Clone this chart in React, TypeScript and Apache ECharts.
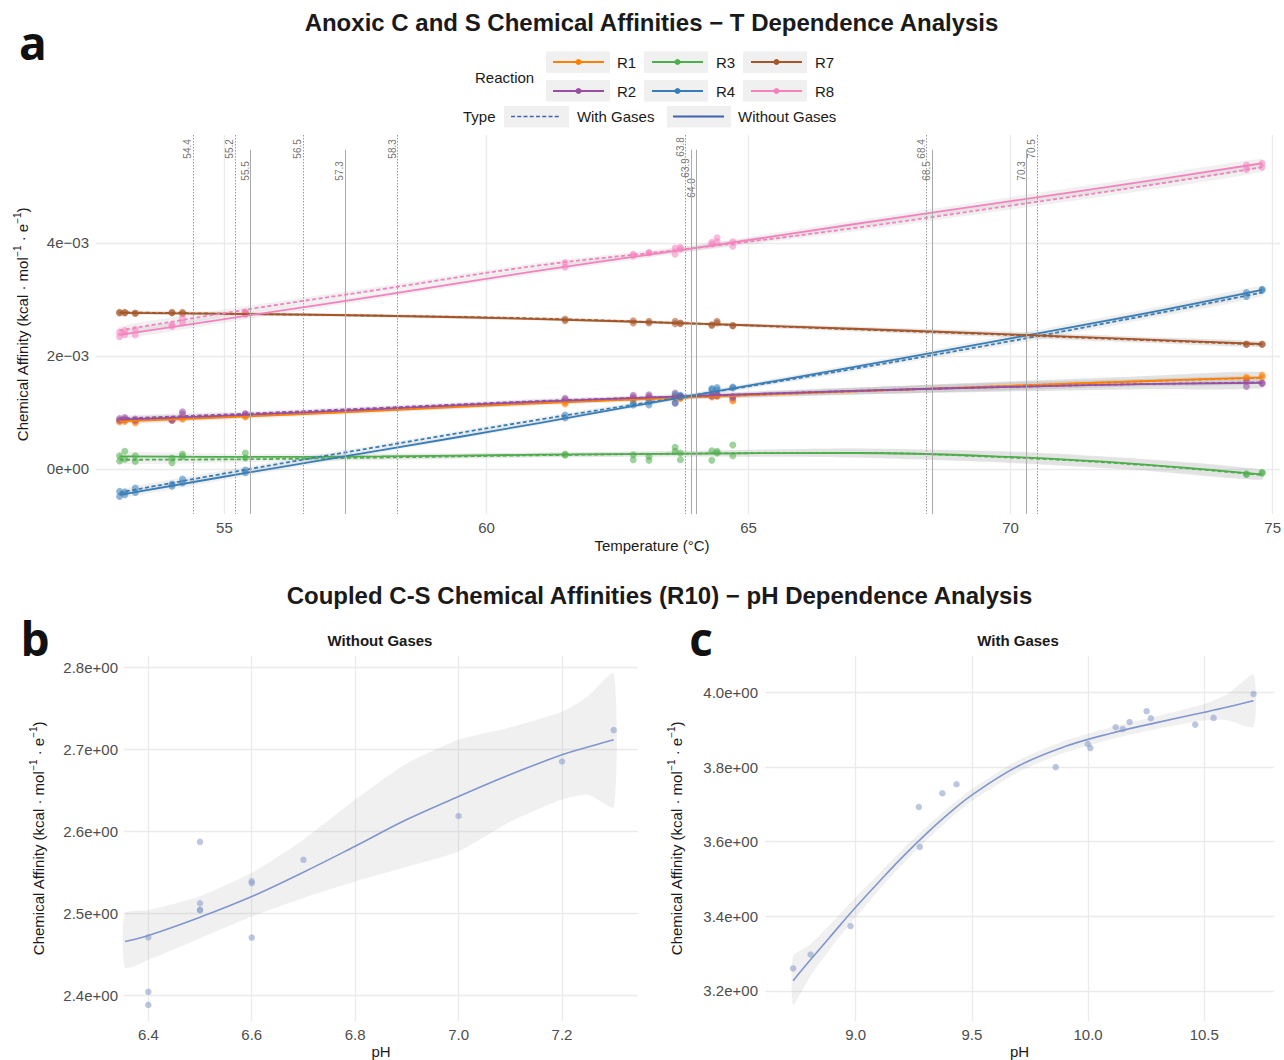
import React, { useEffect, useRef } from 'react';
import * as echarts from 'echarts';

const FONT = "'Liberation Sans', Arial, Helvetica, sans-serif";

// ================= Panel a : affinities vs temperature (values in 1e-3 kcal·mol-1·e-1) =================
const reactionNames = ['R1', 'R2', 'R3', 'R4', 'R7', 'R8'];
const reactionColors = ['#FF7F00', '#984EA3', '#4DAF4A', '#377EB8', '#A65628', '#F781BF'];

const sampleTemps = [53.0, 53.1, 53.3, 54.0, 54.2, 55.4, 61.5, 62.8, 63.1, 63.6, 63.7, 64.3, 64.4, 64.7, 74.5, 74.8];

const R1_ptsWith = [0.85, 0.86, 0.84, 0.87, 0.90, 0.93, 1.17, 1.24, 1.25, 1.27, 1.26, 1.29, 1.30, 1.22, 1.62, 1.66];
const R1_ptsWithout = [0.83, 0.84, 0.81, 0.86, 0.88, 0.92, 1.15, 1.22, 1.24, 1.25, 1.24, 1.27, 1.28, 1.20, 1.60, 1.62];
const R2_ptsWith = [0.89, 0.91, 0.88, 0.87, 1.01, 0.98, 1.25, 1.30, 1.31, 1.34, 1.29, 1.31, 1.32, 1.28, 1.55, 1.52];
const R2_ptsWithout = [0.86, 0.88, 0.86, 0.86, 0.97, 0.96, 1.22, 1.27, 1.28, 1.16, 1.27, 1.29, 1.30, 1.26, 1.46, 1.51];
const R3_ptsWith = [0.14, 0.17, 0.13, 0.11, 0.22, 0.19, 0.24, 0.16, 0.15, 0.31, 0.16, 0.15, 0.28, 0.23, -0.09, -0.06];
const R3_ptsWithout = [0.23, 0.31, 0.23, 0.19, 0.26, 0.28, 0.26, 0.25, 0.22, 0.38, 0.28, 0.32, 0.31, 0.42, -0.10, -0.08];
const R4_ptsWith = [-0.40, -0.41, -0.34, -0.27, -0.18, -0.02, 0.95, 1.16, 1.19, 1.31, 1.30, 1.42, 1.44, 1.45, 3.05, 3.16];
const R4_ptsWithout = [-0.49, -0.46, -0.42, -0.31, -0.25, -0.07, 0.90, 1.13, 1.13, 1.17, 1.28, 1.40, 1.40, 1.43, 3.12, 3.18];
const R7_ptsWith = [2.77, 2.77, 2.76, 2.77, 2.77, 2.74, 2.65, 2.62, 2.61, 2.61, 2.58, 2.55, 2.61, 2.53, 2.21, 2.21];
const R7_ptsWithout = [2.76, 2.76, 2.75, 2.76, 2.75, 2.76, 2.62, 2.58, 2.58, 2.57, 2.57, 2.54, 2.58, 2.54, 2.20, 2.20];
const R8_ptsWith = [2.42, 2.45, 2.47, 2.55, 2.68, 2.78, 3.65, 3.80, 3.83, 3.91, 3.92, 4.01, 4.09, 4.02, 5.30, 5.34];
const R8_ptsWithout = [2.34, 2.38, 2.37, 2.52, 2.58, 2.74, 3.57, 3.77, 3.82, 3.80, 3.89, 3.98, 4.02, 3.94, 5.38, 5.41];

// smoothed fits
const fitTemps = [53, 55.5, 58, 61, 64, 67, 70, 72.5, 74.8];
const R1_fitWith = [0.86, 0.95, 1.05, 1.17, 1.27, 1.37, 1.47, 1.55, 1.61];
const R1_fitWithout = [0.84, 0.93, 1.03, 1.16, 1.27, 1.37, 1.47, 1.55, 1.62];
const R2_fitWith = [0.89, 0.98, 1.08, 1.20, 1.29, 1.38, 1.45, 1.50, 1.53];
const R2_fitWithout = [0.87, 0.96, 1.06, 1.19, 1.29, 1.38, 1.45, 1.50, 1.52];
const R3_fitWith = [0.16, 0.17, 0.20, 0.24, 0.27, 0.28, 0.20, 0.07, -0.11];
const R3_fitWithout = [0.22, 0.21, 0.22, 0.25, 0.27, 0.28, 0.21, 0.08, -0.10];
const R4_fitWith = [-0.42, 0.00, 0.40, 0.87, 1.31, 1.77, 2.26, 2.70, 3.12];
const R4_fitWithout = [-0.46, -0.06, 0.33, 0.81, 1.31, 1.80, 2.31, 2.74, 3.17];
const R7_fitWith = [2.77, 2.74, 2.71, 2.66, 2.57, 2.47, 2.37, 2.28, 2.20];
const R7_fitWithout = [2.76, 2.74, 2.71, 2.65, 2.57, 2.48, 2.38, 2.29, 2.21];
const R8_fitWith = [2.45, 2.83, 3.18, 3.60, 3.91, 4.26, 4.66, 5.00, 5.34];
const R8_fitWithout = [2.37, 2.72, 3.07, 3.51, 3.91, 4.33, 4.74, 5.08, 5.41];

// half-width of the confidence ribbons at fitTemps
const R1_se = [0.05, 0.04, 0.04, 0.04, 0.04, 0.06, 0.08, 0.09, 0.10];
const R2_se = [0.05, 0.04, 0.04, 0.04, 0.04, 0.06, 0.08, 0.09, 0.10];
const R3_se = [0.07, 0.05, 0.05, 0.04, 0.05, 0.08, 0.10, 0.10, 0.09];
const R4_se = [0.06, 0.05, 0.04, 0.04, 0.04, 0.05, 0.06, 0.07, 0.07];
const R7_se = [0.03, 0.03, 0.03, 0.03, 0.03, 0.04, 0.05, 0.05, 0.05];
const R8_se = [0.07, 0.06, 0.05, 0.05, 0.05, 0.06, 0.07, 0.08, 0.08];

// vertical reference temperatures
const refTemps = [54.4, 55.2, 55.5, 56.5, 57.3, 58.3, 63.8, 63.9, 64.0, 68.4, 68.5, 70.3, 70.5];
const refTypes = ['With', 'With', 'Without', 'With', 'Without', 'With', 'With', 'Without', 'Without', 'With', 'Without', 'Without', 'With'];
const refLabels = ['54.4', '55.2', '55.5', '56.5', '57.3', '58.3', '63.8', '63.9', '64.0', '68.4', '68.5', '70.3', '70.5'];

// ================= Panel b : Without Gases =================
const pH_b = [6.4, 6.4, 6.4, 6.5, 6.5, 6.5, 6.5, 6.6, 6.6, 6.6, 6.7, 7.0, 7.2, 7.3];
const aff_b = [2.471, 2.4045, 2.3886, 2.5874, 2.5126, 2.5045, 2.504, 2.5394, 2.537, 2.4707, 2.5655, 2.619, 2.6854, 2.7236];
const fitPH_b = [6.355, 6.4, 6.5, 6.6, 6.7, 6.8, 6.9, 7.0, 7.1, 7.2, 7.25, 7.3];
const fit_b = [2.4659, 2.4732, 2.4955, 2.5207, 2.5504, 2.5821, 2.6146, 2.6427, 2.6695, 2.6935, 2.703, 2.7118];
const upper_b = [2.5004, 2.504, 2.521, 2.5496, 2.590, 2.639, 2.683, 2.712, 2.727, 2.746, 2.765, 2.793];
const lower_b = [2.434, 2.4435, 2.470, 2.4963, 2.519, 2.539, 2.557, 2.5756, 2.612, 2.639, 2.645, 2.630];

// ================= Panel c : With Gases =================
const pH_c = [8.731, 8.806, 8.978, 9.272, 9.276, 9.373, 9.434, 9.861, 9.999, 10.010, 10.119, 10.149, 10.179, 10.252, 10.270, 10.461, 10.540, 10.712];
const aff_c = [3.260, 3.2975, 3.3736, 3.693, 3.586, 3.730, 3.754, 3.800, 3.862, 3.851, 3.907, 3.902, 3.921, 3.950, 3.931, 3.914, 3.932, 3.996];
const fitPH_c = [8.731, 8.8, 8.9, 9.0, 9.1, 9.2, 9.3, 9.4, 9.5, 9.7, 9.9, 10.1, 10.3, 10.5, 10.6, 10.712];
const fit_c = [3.227, 3.279, 3.352, 3.424, 3.492, 3.558, 3.619, 3.675, 3.725, 3.803, 3.855, 3.891, 3.920, 3.947, 3.961, 3.978];
const upper_c = [3.292, 3.322, 3.384, 3.451, 3.514, 3.578, 3.637, 3.692, 3.741, 3.819, 3.871, 3.907, 3.937, 3.969, 3.996, 4.048];
const lower_c = [3.162, 3.234, 3.320, 3.397, 3.470, 3.538, 3.601, 3.658, 3.709, 3.787, 3.839, 3.875, 3.903, 3.925, 3.926, 3.908];

// ================= helpers =================
const ptsByReaction = [
  [R1_ptsWith, R1_ptsWithout], [R2_ptsWith, R2_ptsWithout], [R3_ptsWith, R3_ptsWithout],
  [R4_ptsWith, R4_ptsWithout], [R7_ptsWith, R7_ptsWithout], [R8_ptsWith, R8_ptsWithout],
];
const fitByReaction = [
  [R1_fitWith, R1_fitWithout], [R2_fitWith, R2_fitWithout], [R3_fitWith, R3_fitWithout],
  [R4_fitWith, R4_fitWithout], [R7_fitWith, R7_fitWithout], [R8_fitWith, R8_fitWithout],
];
const seByReaction = [R1_se, R2_se, R3_se, R4_se, R7_se, R8_se];

const fmtSci = (v: number, d: number) => {
  const s = v.toExponential(d);
  const [m, e] = s.split('e');
  const sign = e.startsWith('-') ? '−' : '+';
  const ex = e.replace(/^[+-]/, '').padStart(2, '0');
  return `${m}e${sign}${ex}`;
};

const BAND_FILL = 'rgba(153,153,153,0.15)';
const TYPE_COLOR = '#3F63B0';
const GRID_COLOR = '#EBEBEB';
const AXIS_TEXT = '#4D4D4D';
const TITLE_TEXT = '#1A1A1A';

const A_MIN = -0.8, A_MAX = 5.91, A_SOLID_TOP = 5.65;

const band = (name: string, xs: number[], lo: number[], hi: number[], gi: number) => ({
  type: 'custom',
  name,
  xAxisIndex: gi,
  yAxisIndex: gi,
  silent: true,
  z: 1,
  data: xs.map((x, i) => [x, lo[i], hi[i]]),
  encode: { x: 0, y: [1, 2] },
  renderItem: (params: any, api: any) => {
    if (params.dataIndex !== 0) return null;
    const pts: number[][] = [];
    xs.forEach((x, i) => pts.push(api.coord([x, hi[i]])));
    for (let i = xs.length - 1; i >= 0; i--) pts.push(api.coord([xs[i], lo[i]]));
    return { type: 'polygon', shape: { points: pts, smooth: 0.2 }, style: { fill: BAND_FILL } };
  },
});

const yName = 'Chemical Affinity (kcal · mol{sup|−1} · e{sup|−1})';
const yNameStyle = {
  fontSize: 15,
  color: TITLE_TEXT,
  fontFamily: FONT,
  lineHeight: 20,
  rich: { sup: { fontSize: 10, verticalAlign: 'top', lineHeight: 20, color: TITLE_TEXT, fontFamily: FONT } },
};

const valueAxis = (gi: number, min: number, max: number, step: number, fmt: (v: number) => string, margin: number) => ({
  gridIndex: gi,
  type: 'value',
  min,
  max,
  minInterval: step,
  maxInterval: step,
  axisLine: { show: false },
  axisTick: { show: false },
  axisLabel: { color: AXIS_TEXT, fontSize: 15, fontFamily: FONT, margin, showMinLabel: false, showMaxLabel: false, formatter: fmt },
  splitLine: { show: true, showMinLine: false, showMaxLine: false, lineStyle: { color: GRID_COLOR, width: 1.3 } },
});

const dashIcon = 'path://' + Array.from({ length: 8 }, (_, i) => `M${i * 6.25},0h4v1.6h-4z`).join('');

const legendItem = (name: string, left: number, top: number, itemWidth: number, itemHeight: number, padLeft: number, icon?: string) => ({
  show: true,
  orient: 'horizontal',
  left,
  top,
  padding: 0,
  itemWidth,
  itemHeight,
  selectedMode: false,
  z: 6,
  data: [icon ? { name, icon } : { name }],
  textStyle: { fontSize: 15, color: TITLE_TEXT, fontFamily: FONT, padding: [0, 0, 0, padLeft] },
});

const SMOOTH_A = 0.4;
const SMOOTH_BC = 0.4;

function buildOption() {
  const series: any[] = [];

  // reference vertical lines + labels
  const refLabelDy = refLabels.map((lab, i) => {
    if (lab === '63.8') return 12;
    if (lab === '63.9') return 33;
    if (lab === '64.0') return 53;
    return refTypes[i] === 'With' ? 14 : 36;
  });
  series.push({
    type: 'scatter',
    name: 'reference temperatures',
    xAxisIndex: 0,
    yAxisIndex: 0,
    silent: true,
    z: 1,
    symbolSize: 0.1,
    itemStyle: { color: 'rgba(0,0,0,0)' },
    data: refTemps.map((t, i) => ({ value: [t, A_MAX], label: { position: [-5, refLabelDy[i]] } })),
    label: {
      show: true,
      rotate: 90,
      align: 'center',
      verticalAlign: 'middle',
      fontSize: 10,
      color: AXIS_TEXT,
      fontFamily: FONT,
      formatter: (p: any) => refLabels[p.dataIndex],
    },
    markLine: {
      silent: true,
      symbol: ['none', 'none'],
      label: { show: false },
      emphasis: { disabled: true },
      data: refTemps.map((t, i) => [
        {
          coord: [t, refTypes[i] === 'With' ? A_MAX : A_SOLID_TOP],
          lineStyle: refTypes[i] === 'With'
            ? { color: '#9A9A9A', width: 1, type: [1.5, 1.5] }
            : { color: '#AAAAAA', width: 1, type: 'solid' },
        },
        { coord: [t, A_MIN] },
      ]),
    },
  });

  reactionNames.forEach((r, k) => {
    const color = reactionColors[k];
    const [pw, pwo] = ptsByReaction[k];
    const [fw, fwo] = fitByReaction[k];
    const se = seByReaction[k];
    series.push({
      type: 'line', name: r, xAxisIndex: 0, yAxisIndex: 0, silent: true, z: 4,
      data: fitTemps.map((t, i) => [t, fwo[i]]),
      symbol: 'none', smooth: SMOOTH_A,
      lineStyle: { color, width: 1.8 }, itemStyle: { color },
    });
    series.push({
      type: 'line', name: r, xAxisIndex: 0, yAxisIndex: 0, silent: true, z: 4,
      data: fitTemps.map((t, i) => [t, fw[i]]),
      symbol: 'none', smooth: SMOOTH_A,
      lineStyle: { color, width: 1.8, type: [4, 2.5] }, itemStyle: { color },
    });
    series.push({
      type: 'scatter', name: r, xAxisIndex: 0, yAxisIndex: 0, silent: true, z: 3,
      data: [...sampleTemps.map((t, i) => [t, pw[i]]), ...sampleTemps.map((t, i) => [t, pwo[i]])],
      symbolSize: 7, itemStyle: { color, opacity: 0.55 },
    });
    series.push(band(`${r} ribbon without`, fitTemps, fwo.map((v, i) => v - se[i]), fwo.map((v, i) => v + se[i]), 0));
    series.push(band(`${r} ribbon with`, fitTemps, fw.map((v, i) => v - se[i]), fw.map((v, i) => v + se[i]), 0));
  });

  // legend-only series for the Type key
  series.push({ type: 'line', name: 'With Gases', xAxisIndex: 0, yAxisIndex: 0, data: [], lineStyle: { color: TYPE_COLOR, type: [4, 2.5] }, itemStyle: { color: TYPE_COLOR } });
  series.push({ type: 'line', name: 'Without Gases', xAxisIndex: 0, yAxisIndex: 0, data: [], lineStyle: { color: TYPE_COLOR }, itemStyle: { color: TYPE_COLOR } });

  // panel b
  series.push(band('b ribbon', fitPH_b, lower_b, upper_b, 1));
  series.push({
    type: 'line', name: 'b fit', xAxisIndex: 1, yAxisIndex: 1, silent: true, z: 4,
    data: fitPH_b.map((x, i) => [x, fit_b[i]]), symbol: 'none', smooth: SMOOTH_BC,
    lineStyle: { color: '#8096CC', width: 1.6 },
  });
  series.push({
    type: 'scatter', name: 'b points', xAxisIndex: 1, yAxisIndex: 1, silent: true, z: 3,
    data: pH_b.map((x, i) => [x, aff_b[i]]), symbolSize: 6.5, itemStyle: { color: '#8DA0CB', opacity: 0.6 },
  });

  // panel c
  series.push(band('c ribbon', fitPH_c, lower_c, upper_c, 2));
  series.push({
    type: 'line', name: 'c fit', xAxisIndex: 2, yAxisIndex: 2, silent: true, z: 4,
    data: fitPH_c.map((x, i) => [x, fit_c[i]]), symbol: 'none', smooth: SMOOTH_BC,
    lineStyle: { color: '#8096CC', width: 1.6 },
  });
  series.push({
    type: 'scatter', name: 'c points', xAxisIndex: 2, yAxisIndex: 2, silent: true, z: 3,
    data: pH_c.map((x, i) => [x, aff_c[i]]), symbolSize: 6.5, itemStyle: { color: '#8DA0CB', opacity: 0.6 },
  });

  const keyBoxes = [
    [546, 51.5, 64, 21.5], [644, 51.5, 64, 21.5], [743, 51.5, 64, 21.5],
    [546, 80, 64, 21.5], [644, 80, 64, 21.5], [743, 80, 64, 21.5],
    [504, 106, 65, 21.5], [667, 106, 64, 21.5],
  ];

  const txt = (text: string, x: number, y: number, size: number, weight: any, align: string, family = FONT, fill = TITLE_TEXT) => ({
    type: 'text', x, y, silent: true, z: 10,
    style: { text, fontSize: size, fontWeight: weight, fontFamily: family, fill, align, verticalAlign: 'middle', textAlign: align, textVerticalAlign: 'middle' },
  });

  return {
    animation: false,
    backgroundColor: '#FFFFFF',
    textStyle: { fontFamily: FONT },
    grid: [
      { left: 96, top: 135, width: 1188, height: 379 },
      { left: 124, top: 656, width: 514, height: 365 },
      { left: 765, top: 656, width: 509, height: 365 },
    ],
    xAxis: [
      valueAxis(0, 52.55, 75.15, 5, (v: number) => String(Math.round(v)), 6),
      { ...valueAxis(1, 6.353, 7.347, 0.2, (v: number) => v.toFixed(1), 6), name: 'pH', nameLocation: 'middle', nameGap: 23, nameTextStyle: { fontSize: 15, color: TITLE_TEXT, fontFamily: FONT } },
      { ...valueAxis(2, 8.61, 10.80, 0.5, (v: number) => v.toFixed(1), 6), name: 'pH', nameLocation: 'middle', nameGap: 23, nameTextStyle: { fontSize: 15, color: TITLE_TEXT, fontFamily: FONT } },
    ],
    yAxis: [
      { ...valueAxis(0, A_MIN, A_MAX, 2, (v: number) => fmtSci(v * 1e-3, 0), 7), name: yName, nameLocation: 'middle', nameGap: 64, nameRotate: 90, nameTextStyle: yNameStyle },
      { ...valueAxis(1, 2.369, 2.814, 0.1, (v: number) => fmtSci(v, 1), 6), name: yName, nameLocation: 'middle', nameGap: 76, nameRotate: 90, nameTextStyle: yNameStyle },
      { ...valueAxis(2, 3.119, 4.098, 0.2, (v: number) => fmtSci(v, 1), 7), name: yName, nameLocation: 'middle', nameGap: 79, nameRotate: 90, nameTextStyle: yNameStyle },
    ],
    legend: [
      legendItem('R1', 552, 54.5, 51, 7.5, 8),
      legendItem('R3', 651, 54.5, 51, 7.5, 8),
      legendItem('R7', 750, 54.5, 51, 7.5, 8),
      legendItem('R2', 552, 83.5, 51, 7.5, 8),
      legendItem('R4', 651, 83.5, 51, 7.5, 8),
      legendItem('R8', 750, 83.5, 51, 7.5, 8),
      legendItem('With Gases', 511, 109, 48, 1.6, 13, dashIcon),
      legendItem('Without Gases', 673, 109, 51, 2, 9, 'rect'),
    ],
    graphic: [
      ...keyBoxes.map(([x, y, w, h]) => ({ type: 'rect', silent: true, z: 0, shape: { x, y, width: w, height: h }, style: { fill: '#F0F0F0' } })),
      txt('Reaction', 475, 77.3, 15, 'normal', 'left'),
      txt('Type', 463, 116.7, 15, 'normal', 'left'),
      txt('Anoxic C and S Chemical Affinities − T Dependence Analysis', 651.5, 22, 24, 'bold', 'center'),
      txt('Coupled C-S Chemical Affinities (R10) − pH Dependence Analysis', 659.5, 595, 24, 'bold', 'center'),
      txt('Without Gases', 380, 640, 15, 'bold', 'center'),
      txt('With Gases', 1018, 640, 15, 'bold', 'center'),
      txt('Temperature (°C)', 652, 545, 15, 'normal', 'center'),
      txt('a', 33, 42, 46, 'bold', 'center', "'Open Sans', 'Liberation Sans', sans-serif", '#111111'),
      txt('b', 35, 638, 46, 'bold', 'center', "'Open Sans', 'Liberation Sans', sans-serif", '#111111'),
      txt('c', 701, 638, 46, 'bold', 'center', "'Open Sans', 'Liberation Sans', sans-serif", '#111111'),
    ],
    series,
  };
}

export default function App() {
  const ref = useRef<HTMLDivElement>(null);
  useEffect(() => {
    if (!ref.current) return;
    const chart = echarts.init(ref.current, null, { renderer: 'svg' });
    chart.setOption(buildOption() as any);
    return () => chart.dispose();
  }, []);
  return (
    <div
      ref={ref}
      style={{ position: 'absolute', left: 0, top: 0, width: 1284, height: 1060, background: '#FFFFFF' }}
    />
  );
}
